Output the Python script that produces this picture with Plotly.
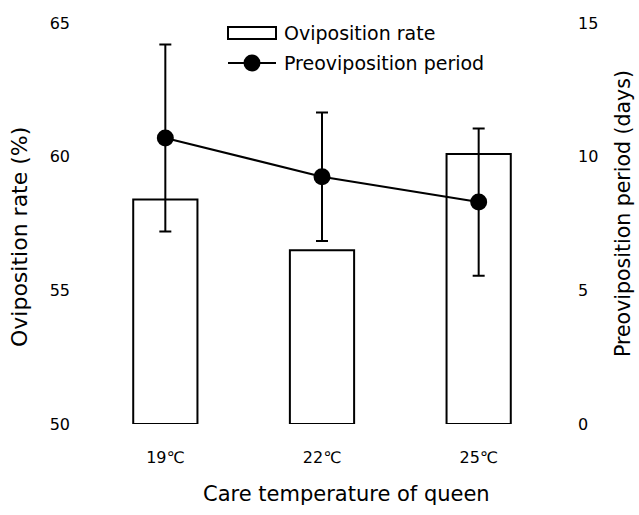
import plotly.graph_objects as go

categories = ["19℃", "22℃", "25℃"]
oviposition_rate = [58.4, 56.5, 60.1]
preoviposition_period = [10.7, 9.25, 8.3]
preoviposition_err = [3.5, 2.4, 2.75]

legend_labels = ["Oviposition rate", "Preoviposition period"]
x_title = "Care temperature of queen"
y_title = "Oviposition rate (%)"
y2_title = "Preoviposition period (days)"

FONT = "DejaVu Sans"
W, H = 639, 515
ML, MR, MT, MB = 87, 82, 23, 91
PW, PH = W - ML - MR, H - MT - MB


def px_x(x):
    return (x - ML) / PW


def px_y(y):
    return (H - MB - y) / PH


fig = go.Figure()
fig.add_trace(go.Bar(
    x=categories, y=[v - 50 for v in oviposition_rate], base=50,
    name=legend_labels[0],
    marker=dict(color="white", line=dict(color="black", width=2)),
    width=0.41, yaxis="y", showlegend=False,
))
fig.add_trace(go.Scatter(
    x=categories, y=preoviposition_period, name=legend_labels[1],
    mode="lines+markers",
    line=dict(color="black", width=2),
    marker=dict(color="black", size=17),
    error_y=dict(type="data", array=preoviposition_err, color="black", thickness=2, width=6),
    yaxis="y2", showlegend=False,
))

# custom legend (symbols drawn to match the reference style)
shapes = [
    dict(type="rect", xref="paper", yref="paper",
         x0=px_x(228), x1=px_x(276), y0=px_y(39), y1=px_y(27),
         line=dict(color="black", width=2), fillcolor="white"),
    dict(type="line", xref="paper", yref="paper",
         x0=px_x(228), x1=px_x(276), y0=px_y(63), y1=px_y(63),
         line=dict(color="black", width=2)),
    dict(type="circle", xref="paper", yref="paper",
         x0=px_x(243.5), x1=px_x(260.5), y0=px_y(71.5), y1=px_y(54.5),
         line=dict(color="black", width=0), fillcolor="black"),
]
annotations = [
    dict(text=legend_labels[0], xref="paper", yref="paper", x=px_x(282), y=px_y(33),
         xanchor="left", yanchor="middle", showarrow=False, font=dict(size=19)),
    dict(text=legend_labels[1], xref="paper", yref="paper", x=px_x(282), y=px_y(63),
         xanchor="left", yanchor="middle", showarrow=False, font=dict(size=19)),
    dict(text=x_title, xref="paper", yref="paper", x=px_x(346), y=px_y(494),
         xanchor="center", yanchor="middle", showarrow=False, font=dict(size=21)),
    dict(text=y_title, xref="paper", yref="paper", x=px_x(19), y=px_y(237),
         xanchor="center", yanchor="middle", showarrow=False, textangle=-90,
         font=dict(size=22)),
    dict(text=y2_title, xref="paper", yref="paper", x=px_x(623), y=px_y(214),
         xanchor="center", yanchor="middle", showarrow=False, textangle=-90,
         font=dict(size=20.5)),
]

fig.update_layout(
    width=W, height=H,
    margin=dict(l=ML, r=MR, t=MT, b=MB),
    plot_bgcolor="white", paper_bgcolor="white",
    font=dict(family=FONT, color="black", size=16),
    showlegend=False,
    shapes=shapes,
    annotations=annotations,
    xaxis=dict(
        range=[-0.5, 2.5], showgrid=False, showline=False, zeroline=False,
        ticks="", ticklabelstandoff=22, tickfont=dict(size=16),
    ),
    yaxis=dict(
        range=[50, 65], tickvals=[50, 55, 60, 65], showgrid=False, showline=False,
        zeroline=False, ticks="", ticklabelstandoff=16, tickfont=dict(size=16),
    ),
    yaxis2=dict(
        range=[0, 15], tickvals=[0, 5, 10, 15], overlaying="y", side="right",
        showgrid=False, showline=False, zeroline=False, ticks="",
        ticklabelstandoff=20, tickfont=dict(size=16),
    ),
)

fig.write_html("out.html")
